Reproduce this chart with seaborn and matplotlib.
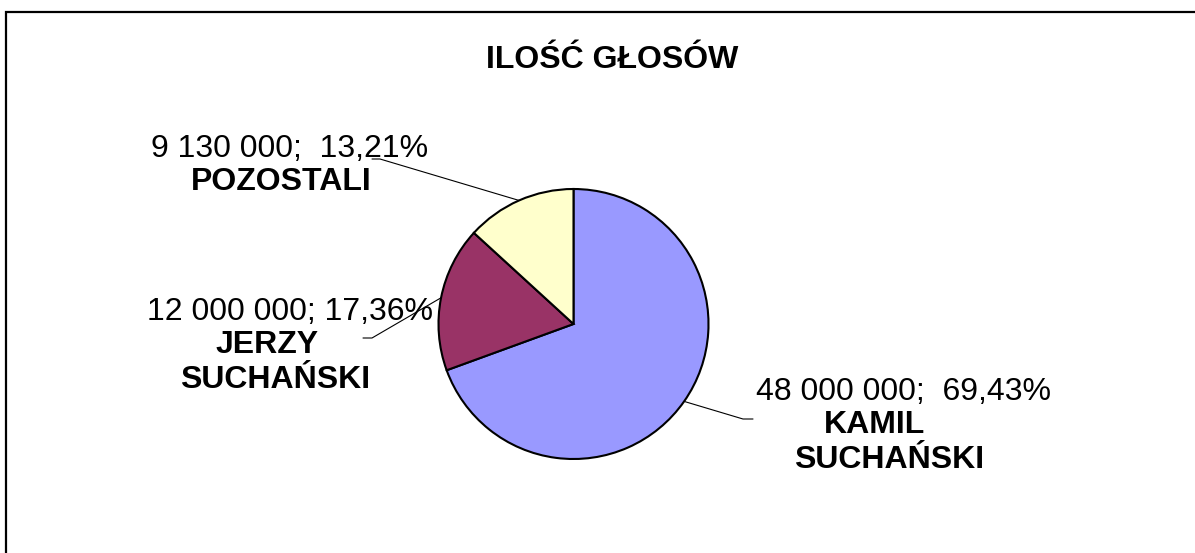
import numpy as np
import matplotlib
matplotlib.use("Agg")
import matplotlib.pyplot as plt
from matplotlib.patches import Rectangle
import seaborn as sns

# Data
names = ["KAMIL\nSUCHAŃSKI", "JERZY\nSUCHAŃSKI", "POZOSTALI"]
votes = [48000000, 12000000, 9130000]
separators = ["  ", " ", "  "]
colors = ["#9999FF", "#993366", "#FFFFCC"]
title = "ILOŚĆ GŁOSÓW"

sns.set_theme(style="white")
plt.rcParams["font.family"] = ["Liberation Sans", "DejaVu Sans"]
plt.rcParams["text.color"] = "black"

W, H = 1195, 553
fig = plt.figure(figsize=(W / 100, H / 100), dpi=100)

# pie centre / radius in pixels
cx, cy, r = 573.5, 324, 135
ax = fig.add_axes([(cx - r) / W, (H - cy - r) / H, 2 * r / W, 2 * r / H])

wedges, _ = ax.pie(votes, colors=colors, startangle=90, counterclock=False,
                   wedgeprops=dict(edgecolor="black", linewidth=1.5))
ax.set_xlim(-1, 1)
ax.set_ylim(-1, 1)
ax.axis("off")

total = sum(votes)

def fmt_num(v):
    return f"{v:,}".replace(",", " ")

def fmt_pct(v):
    return f"{100 * v / total:.2f}%".replace(".", ",")

def px(x, y):
    # pixel -> data coordinates of the pie axes
    return (x - cx) / r, (cy - y) / r

# label layout in pixels: value line centre x, baseline y, name line centres x,
# leader line end and elbow
label_pos = [(904, 400, [875, 889], (753, 419), (743, 419)),
             (290, 320, [267, 275], (363, 338), (372, 338)),
             (290, 157, [281], (372, 159), (380, 159))]
line_step = 33
fs = 23

for w, name, v, sep, (tx, ty, nx, p_end, p_elb) in zip(wedges, names, votes, separators, label_pos):
    mid = np.deg2rad((w.theta1 + w.theta2) / 2)
    ex, ey = np.cos(mid), np.sin(mid)
    xs = [ex, px(*p_elb)[0], px(*p_end)[0]]
    ys = [ey, px(*p_elb)[1], px(*p_end)[1]]
    ax.plot(xs, ys, color="black", lw=0.8, clip_on=False)

    x0, y0 = px(tx, ty)
    ax.text(x0, y0, f"{fmt_num(v)};{sep}{fmt_pct(v)}", ha="center", va="baseline",
            fontsize=fs, clip_on=False)
    for i, line in enumerate(name.split("\n")):
        xl, yl = px(nx[i], ty + line_step * (i + 1) + (2 if i else 0))
        ax.text(xl, yl, line, ha="center", va="baseline", fontsize=fs,
                fontweight="bold", clip_on=False)

fig.text(612 / W, 1 - 68 / H, title, ha="center", va="baseline",
         fontsize=fs, fontweight="bold")

# chart-area border (right and bottom edges fall outside the picture)
fig.add_artist(Rectangle((6 / W, -0.1), 1.2, 1 - 12 / H + 0.1,
                         transform=fig.transFigure, fill=False,
                         edgecolor="black", linewidth=1.6))

fig.savefig("out.png", dpi=100, facecolor="white")
